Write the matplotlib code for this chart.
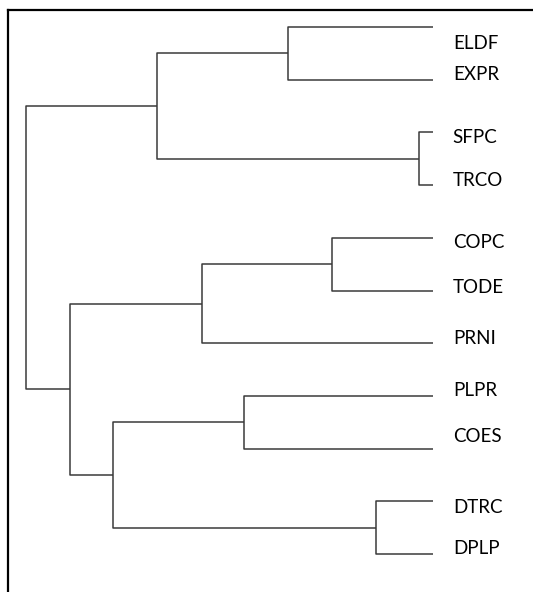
import numpy as np
import matplotlib.pyplot as plt

plt.rcParams['font.family'] = ['Lato', 'DejaVu Sans']

# leaves, top to bottom
labels = ['ELDF', 'EXPR', 'SFPC', 'TRCO', 'COPC', 'TODE', 'PRNI',
          'PLPR', 'COES', 'DTRC', 'DPLP']

# merges: (child a, child b, height) -- new node ids start at len(labels)
merge_a = [2, 9, 4, 0, 7, 13, 14, 15, 16, 17]
merge_b = [3, 10, 5, 1, 8, 6, 11, 12, 18, 19]
merge_h = [0.034, 0.140, 0.248, 0.356, 0.464, 0.568, 0.677, 0.786, 0.892, 1.0]

# label offsets from their leaf line (pixels, text is not centred on leaves)
label_nudge = [-16, 5, -5, 5, -5, 3, 5, 5, 12, -6, 6]

n = len(labels)
pos_y = list(range(n))
pos_h = [0.0] * n

fig = plt.figure(figsize=(5.33, 5.92), dpi=100)
ax = fig.add_axes([8 / 533, 0, 1 - 8 / 533, 582 / 592])

line_col = '#3a3a3a'
for a, b, h in zip(merge_a, merge_b, merge_h):
    ya, yb = pos_y[a], pos_y[b]
    ax.plot([pos_h[a], h, h, pos_h[b]], [ya, ya, yb, yb],
            color=line_col, lw=1.1, solid_capstyle='butt')
    pos_y.append((ya + yb) / 2)
    pos_h.append(h)

for i, lab in enumerate(labels):
    ax.annotate(lab, xy=(-0.049, i), xytext=(0, label_nudge[i]),
                textcoords='offset pixels', ha='left', va='center',
                fontsize=13.5, color='black')

ax.set_xlim(1.044, -0.246)
ax.set_ylim(10.72, -0.323)
ax.set_xticks([])
ax.set_yticks([])
for s in ['right', 'bottom']:
    ax.spines[s].set_visible(False)
for s in ['left', 'top']:
    ax.spines[s].set_linewidth(1.6)
    ax.spines[s].set_color('black')

fig.savefig('out.png', dpi=100)
